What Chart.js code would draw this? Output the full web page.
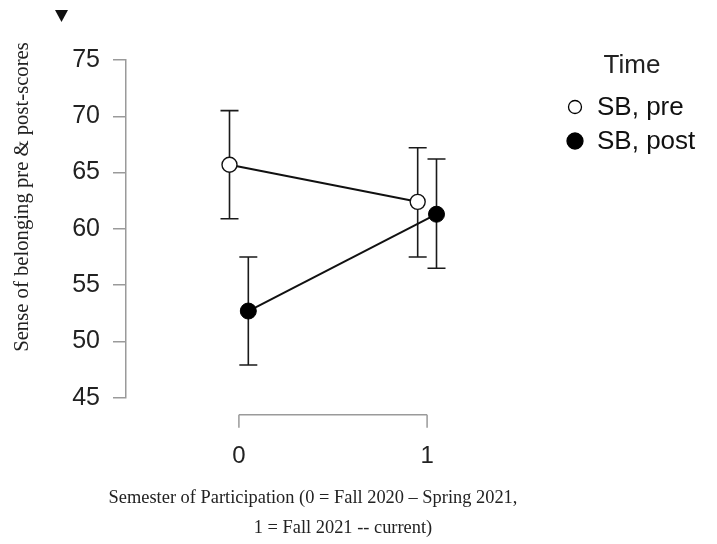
<!DOCTYPE html>
<html>
<head>
<meta charset="utf-8">
<script src="https://cdn.jsdelivr.net/npm/chart.js@4.4.0/dist/chart.umd.min.js"></script>
<style>
    html, body { margin: 0; padding: 0; background: #fff; }
    #wrap { width: 717px; height: 544px; }
</style>
</head>
<body>
<div id="wrap"><canvas id="chart"></canvas></div>
<script>
// Data
const semesters = [0, 1];
const preMeans = [65.7, 62.4];
const preLower = [60.9, 57.5];
const preUpper = [70.5, 67.2];
const postMeans = [52.7, 61.3];
const postLower = [47.9, 56.5];
const postUpper = [57.5, 66.2];
const yTicks = [45, 50, 55, 60, 65, 70, 75];
const seriesNames = ['SB, pre', 'SB, post'];

const SANS = '"Liberation Sans", Arial, sans-serif';
const SERIF = '"Liberation Serif", "Times New Roman", serif';
const AXIS_GRAY = '#9a9a9a';
const DODGE = 0.05;

function makePoints(means, shift) {
    return semesters.map((s, i) => ({ x: s + shift, y: means[i] }));
}

// error bars, x axis range frame, legend and titles
const decorations = {
    id: 'decorations',
    beforeDatasetsDraw(chart) {
        const ctx = chart.ctx;
        const xs = chart.scales.x;
        const ys = chart.scales.y;
        ctx.save();
        ctx.strokeStyle = '#1a1a1a';
        ctx.lineWidth = 1.6;
        chart.data.datasets.forEach(ds => {
            ds.data.forEach((p, i) => {
                const px = xs.getPixelForValue(p.x);
                const top = ys.getPixelForValue(ds.upper[i]);
                const bot = ys.getPixelForValue(ds.lower[i]);
                ctx.beginPath();
                ctx.moveTo(px, top); ctx.lineTo(px, bot);
                ctx.moveTo(px - 9, top); ctx.lineTo(px + 9, top);
                ctx.moveTo(px - 9, bot); ctx.lineTo(px + 9, bot);
                ctx.stroke();
            });
        });
        ctx.restore();
    },
    afterDraw(chart) {
        const ctx = chart.ctx;
        const xs = chart.scales.x;
        const area = chart.chartArea;
        ctx.save();

        // x axis line only spanning the ticks
        const axisY = area.bottom + 17;
        ctx.strokeStyle = AXIS_GRAY;
        ctx.lineWidth = 1.5;
        ctx.beginPath();
        ctx.moveTo(xs.getPixelForValue(semesters[0]), axisY);
        ctx.lineTo(xs.getPixelForValue(semesters[semesters.length - 1]), axisY);
        semesters.forEach(s => {
            const px = xs.getPixelForValue(s);
            ctx.moveTo(px, axisY);
            ctx.lineTo(px, axisY + 13);
        });
        ctx.stroke();

        // y title
        ctx.fillStyle = '#222';
        ctx.font = '20.7px ' + SERIF;
        ctx.textAlign = 'center';
        ctx.textBaseline = 'middle';
        ctx.save();
        ctx.translate(23, 197);
        ctx.rotate(-Math.PI / 2);
        ctx.fillText('Sense of belonging pre & post-scores', 0, 0);
        ctx.restore();

        // x title (two lines, not centred on each other in the original)
        ctx.font = '18.4px ' + SERIF;
        ctx.fillText('Semester of Participation (0 = Fall 2020 \u2013 Spring 2021,', 313, 498);
        ctx.fillText('1 = Fall 2021 -- current)', 343, 528);

        // legend
        ctx.font = '26px ' + SANS;
        ctx.fillText('Time', 632, 66);
        ctx.textAlign = 'left';
        chart.data.datasets.forEach((ds, i) => {
            const cy = 107 + i * 34;
            ctx.beginPath();
            ctx.arc(575, cy, i === 0 ? 6.5 : 8, 0, Math.PI * 2);
            ctx.fillStyle = ds.pointBackgroundColor;
            ctx.fill();
            ctx.strokeStyle = '#000';
            ctx.lineWidth = 1.3;
            ctx.stroke();
            ctx.fillStyle = '#111';
            ctx.fillText(ds.label, 597, cy + 1);
        });

        // little marker at the top left
        ctx.fillStyle = '#111';
        ctx.beginPath();
        ctx.moveTo(55, 10);
        ctx.lineTo(68, 10);
        ctx.lineTo(61.5, 22);
        ctx.closePath();
        ctx.fill();

        ctx.restore();
    }
};

const ctx = document.getElementById('chart').getContext('2d');
new Chart(ctx, {
    type: 'line',
    data: {
        datasets: [
            {
                label: seriesNames[0],
                data: makePoints(preMeans, -DODGE),
                lower: preLower,
                upper: preUpper,
                borderColor: '#111',
                borderWidth: 2,
                pointRadius: 7.5,
                pointBackgroundColor: '#fff',
                pointBorderColor: '#111',
                pointBorderWidth: 1.4
            },
            {
                label: seriesNames[1],
                data: makePoints(postMeans, DODGE),
                lower: postLower,
                upper: postUpper,
                borderColor: '#111',
                borderWidth: 2,
                pointRadius: 8,
                pointBackgroundColor: '#000',
                pointBorderColor: '#000',
                pointBorderWidth: 1
            }
        ]
    },
    options: {
        responsive: true,
        maintainAspectRatio: false,
        animation: false,
        layout: { padding: { left: 0, top: 60, right: 177, bottom: 0 } },
        plugins: {
            legend: { display: false },
            tooltip: { enabled: false }
        },
        scales: {
            x: {
                type: 'linear',
                min: -0.6,
                max: 1.6,
                afterBuildTicks: scale => { scale.ticks = semesters.map(v => ({ value: v })); },
                afterFit: scale => { scale.height = 146.3; },
                grid: { display: false, drawTicks: false },
                border: { display: false },
                ticks: {
                    padding: 44,
                    color: '#222',
                    font: { family: SANS, size: 24 },
                    callback: v => String(v)
                }
            },
            y: {
                min: 45,
                max: 75,
                afterBuildTicks: scale => { scale.ticks = yTicks.map(v => ({ value: v })); },
                afterFit: scale => { scale.width = 126; },
                grid: {
                    drawOnChartArea: false,
                    drawTicks: true,
                    tickLength: 13,
                    color: AXIS_GRAY,
                    lineWidth: 1.5
                },
                border: { display: true, color: AXIS_GRAY, width: 1.5 },
                ticks: {
                    padding: 13,
                    color: '#222',
                    font: { family: SANS, size: 25 }
                }
            }
        }
    },
    plugins: [decorations]
});
</script>
</body>
</html>
